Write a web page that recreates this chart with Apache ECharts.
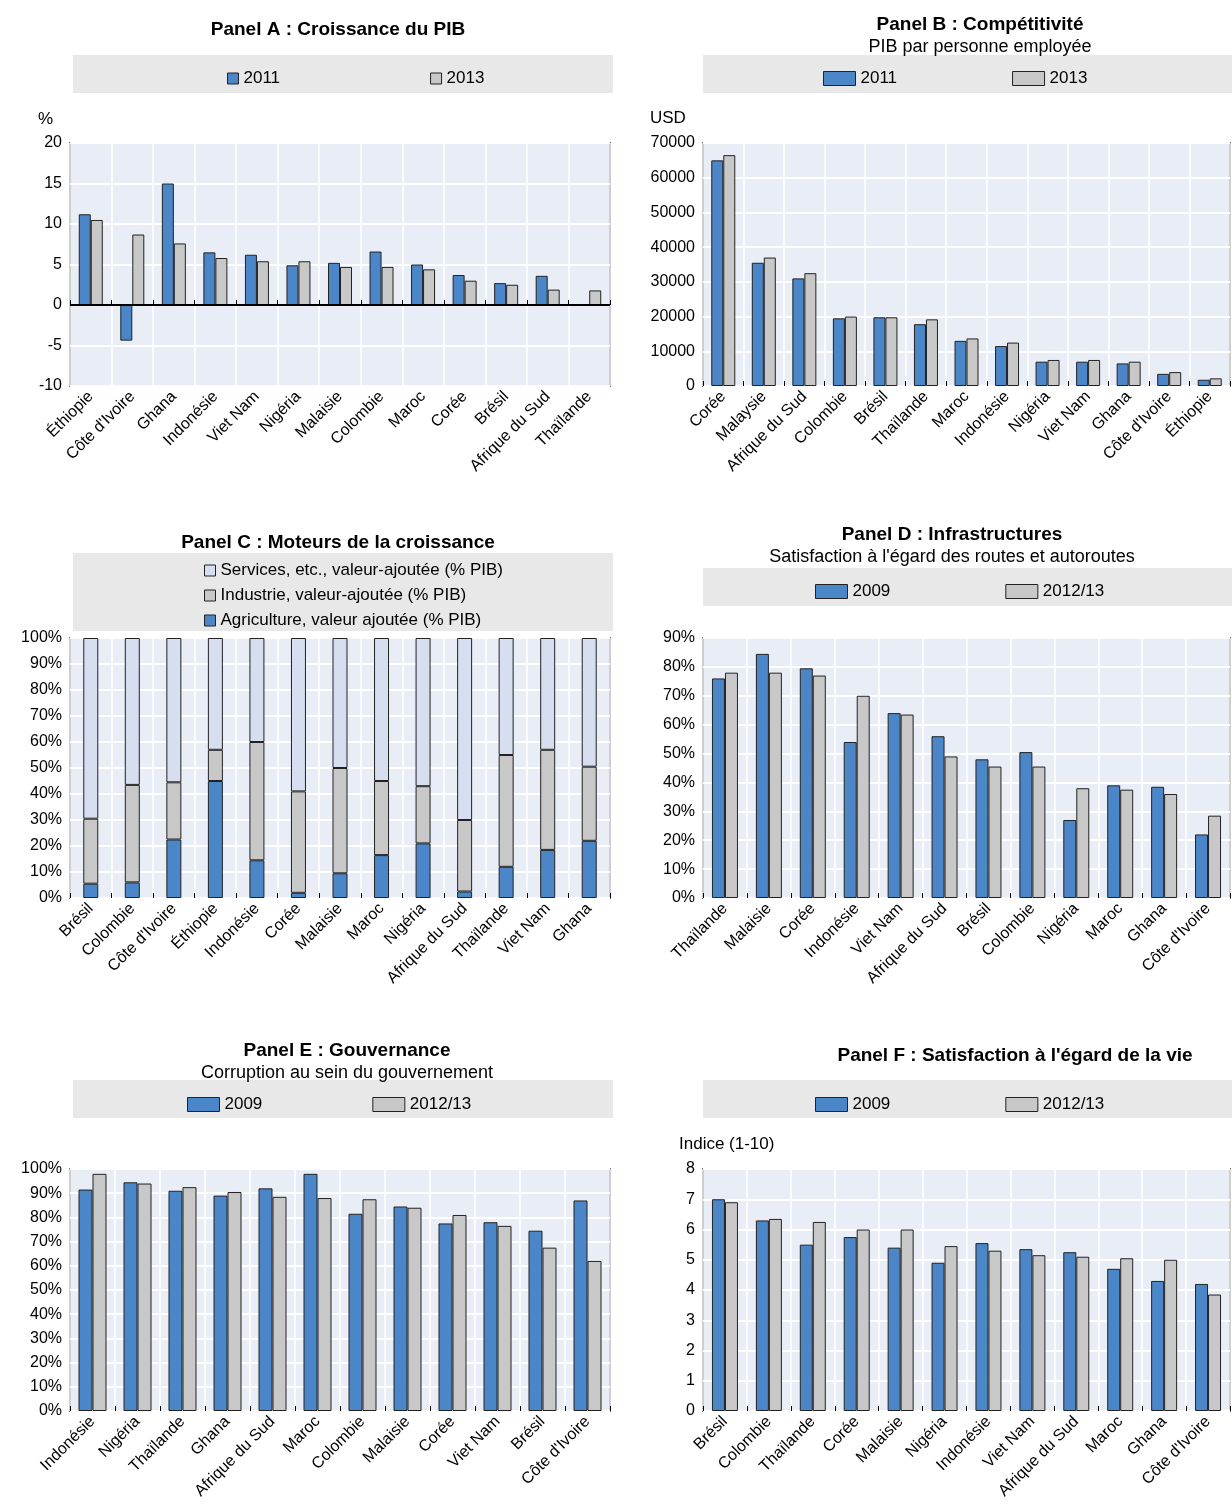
<!DOCTYPE html>
<html><head><meta charset="utf-8">
<script src="https://cdn.jsdelivr.net/npm/echarts@6/dist/echarts.min.js"></script>
<style>body{margin:0;background:#fff}#main{width:1232px;height:1504px}</style>
</head><body><div id="main"></div>
<script>
// Panel A : croissance du PIB (%)
const catA = ["Éthiopie","Côte d'Ivoire","Ghana","Indonésie","Viet Nam","Nigéria","Malaisie","Colombie","Maroc","Corée","Brésil","Afrique du Sud","Thaïlande"];
const a2011 = [11.2,-4.4,15.0,6.5,6.2,4.9,5.2,6.6,5.0,3.7,2.7,3.6,null];
const a2013 = [10.5,8.7,7.6,5.8,5.4,5.4,4.7,4.7,4.4,3.0,2.5,1.9,1.8];
// Panel B : PIB par personne employée (USD)
const catB = ["Corée","Malaysie","Afrique du Sud","Colombie","Brésil","Thaïlande","Maroc","Indonésie","Nigéria","Viet Nam","Ghana","Côte d'Ivoire","Éthiopie"];
const b2011 = [65000,35500,31000,19500,19800,17800,13000,11500,7000,7000,6500,3500,1800];
const b2013 = [66500,37000,32500,20000,19800,19200,13700,12500,7500,7500,7000,4000,2200];
// Panel C : moteurs de la croissance (% PIB)
const catC = ["Brésil","Colombie","Côte d'Ivoire","Éthiopie","Indonésie","Corée","Malaisie","Maroc","Nigéria","Afrique du Sud","Thaïlande","Viet Nam","Ghana"];
const cAgri = [5.5,6,22.5,45,14.5,2,9.5,16.5,21,2.5,12,18.5,22];
const cInd = [25,37.5,22,12,45.5,39,40.5,28.5,22,27.5,43,38.5,28.5];
const cServ = [69.5,56.5,55.5,43,40,59,50,55,57,70,45,43,49.5];
// Panel D : satisfaction routes (%)
const catD = ["Thaïlande","Malaisie","Corée","Indonésie","Viet Nam","Afrique du Sud","Brésil","Colombie","Nigéria","Maroc","Ghana","Côte d'Ivoire"];
const d2009 = [76,84.5,79.5,54,64,56,48,50.5,27,39,38.5,22];
const d2012 = [78,78,77,70,63.5,49,45.5,45.5,38,37.5,36,28.5];
// Panel E : corruption (%)
const catE = ["Indonésie","Nigéria","Thaïlande","Ghana","Afrique du Sud","Maroc","Colombie","Malaisie","Corée","Viet Nam","Brésil","Côte d'Ivoire"];
const e2009 = [91.5,94.5,91,89,92,98,81.5,84.5,77.5,78,74.5,87];
const e2012 = [98,94,92.5,90.5,88.5,88,87.5,84,81,76.5,67.5,62];
// Panel F : satisfaction vie (1-10)
const catF = ["Brésil","Colombie","Thaïlande","Corée","Malaisie","Nigéria","Indonésie","Viet Nam","Afrique du Sud","Maroc","Ghana","Côte d'Ivoire"];
const f2009 = [7.0,6.3,5.5,5.75,5.4,4.9,5.55,5.35,5.25,4.7,4.3,4.2];
const f2012 = [6.9,6.35,6.25,6.0,6.0,5.45,5.3,5.15,5.1,5.05,5.0,3.85];

const FONT = "'Liberation Sans Narrow','Arial Narrow','Liberation Sans',sans-serif";
const BLUE = '#4a86c8', GREY = '#c8c8c8', LIGHT = '#d6deef';
const grids = [
  {left:70, top:143, width:540, height:243},
  {left:703, top:143, width:527, height:243},
  {left:70, top:638, width:540, height:260},
  {left:703, top:638, width:527, height:260},
  {left:70, top:1169, width:540, height:242},
  {left:703, top:1169, width:527, height:242}
].map(g => Object.assign({show:true, backgroundColor:'#e9edf6', borderColor:'#000', borderWidth:1.5}, g));

const cats = [catA,catB,catC,catD,catE,catF];
const xAxis = cats.map((c,i) => ({
  type:'category', gridIndex:i, data:c,
  axisLine:{show:false}, axisTick:{show:true, inside:true, length:5, lineStyle:{color:'#000'}},
  splitLine:{show:true, lineStyle:{color:'#fff', width:1.5}},
  axisLabel:{rotate:45, interval:0, fontFamily:FONT, fontSize:16, color:'#000', margin:8}
}));
const ylab = (fmt) => ({fontFamily:FONT, fontSize:16, color:'#000', formatter:fmt});
const ySplit = {show:true, lineStyle:{color:'#fff', width:2}};
const yAxis = [
  {min:-10, max:20, interval:5},
  {min:0, max:70000, interval:10000},
  {min:0, max:100, interval:10, fmt:'{value}%'},
  {min:0, max:90, interval:10, fmt:'{value}%'},
  {min:0, max:100, interval:10, fmt:'{value}%'},
  {min:0, max:8, interval:1}
].map((y,i) => ({type:'value', gridIndex:i, min:y.min, max:y.max, interval:y.interval,
  axisLine:{show:false}, axisTick:{show:false}, splitLine:ySplit,
  axisLabel:ylab(y.fmt || (v => String(v)))}));

const bar = (name, data, i, color, w, extra) => Object.assign({
  type:'bar', name, data, xAxisIndex:i, yAxisIndex:i, barWidth:w, barGap:'0%',
  itemStyle:{color, borderColor:'#222', borderWidth:1}
}, extra || {});

const series = [
  bar('2011', a2011, 0, BLUE, 12, {markLine:{silent:true, symbol:'none', label:{show:false}, lineStyle:{color:'#000', width:2, type:'solid'}, data:[{yAxis:0}]}}),
  bar('2013', a2013, 0, GREY, 12),
  bar('2011', b2011, 1, BLUE, 12),
  bar('2013', b2013, 1, GREY, 12),
  bar('Agriculture, valeur ajoutée (% PIB)', cAgri, 2, BLUE, 15, {stack:'c'}),
  bar('Industrie, valeur-ajoutée (% PIB)', cInd, 2, GREY, 15, {stack:'c'}),
  bar('Services, etc., valeur-ajoutée (% PIB)', cServ, 2, LIGHT, 15, {stack:'c'}),
  bar('2009', d2009, 3, BLUE, 13),
  bar('2012/13', d2012, 3, GREY, 13),
  bar('2009', e2009, 4, BLUE, 14),
  bar('2012/13', e2012, 4, GREY, 14),
  bar('2009', f2009, 5, BLUE, 13),
  bar('2012/13', f2012, 5, GREY, 13)
];

const lt = {fontFamily:FONT, fontSize:17, color:'#000'};
const legend = [
  {left:222, top:65, data:['2011','2013'], itemWidth:11, itemHeight:11, itemGap:150},
  {left:818, top:65, data:['2011','2013'], itemWidth:32, itemHeight:14, itemGap:115},
  {left:199, top:557, orient:'vertical', data:['Services, etc., valeur-ajoutée (% PIB)','Industrie, valeur-ajoutée (% PIB)','Agriculture, valeur ajoutée (% PIB)'], itemWidth:11, itemHeight:11, itemGap:8},
  {left:810, top:578, data:['2009','2012/13'], itemWidth:32, itemHeight:14, itemGap:115},
  {left:182, top:1091, data:['2009','2012/13'], itemWidth:32, itemHeight:14, itemGap:110},
  {left:810, top:1091, data:['2009','2012/13'], itemWidth:32, itemHeight:14, itemGap:115}
].map(l => Object.assign({icon:'rect', textStyle:lt, selectedMode:false, itemStyle:{borderColor:'#222', borderWidth:1}}, l));

const tt = {fontFamily:FONT, fontSize:19, fontWeight:'bold', color:'#000'};
const st = {fontFamily:FONT, fontSize:18, color:'#000'};
const title = [
  {text:'Panel A : Croissance du PIB', left:333, top:15},
  {text:'Panel B : Compétitivité', subtext:'PIB par personne employée', left:975, top:10},
  {text:'Panel C : Moteurs de la croissance', left:333, top:528},
  {text:'Panel D : Infrastructures', subtext:"Satisfaction à l'égard des routes et autoroutes", left:947, top:520},
  {text:'Panel E : Gouvernance', subtext:'Corruption au sein du gouvernement', left:342, top:1036},
  {text:"Panel F : Satisfaction à l'égard de la vie", left:1010, top:1041}
].map(t => Object.assign({textAlign:'center', textStyle:tt, subtextStyle:st, itemGap:4}, t));

const band = (x,y,w,h) => ({type:'rect', left:x, top:y, z:-1, shape:{width:w, height:h}, style:{fill:'#e8e8e8'}});
const txt = (x,y,s) => ({type:'text', left:x, top:y, style:{text:s, font:'17px ' + FONT, fill:'#000'}});
const graphic = [
  band(73,55,540,38), band(703,55,529,38), band(73,553,540,78),
  band(703,568,529,38), band(73,1080,540,38), band(703,1080,529,38),
  txt(38,111,'%'), txt(650,110,'USD'), txt(679,1136,'Indice (1-10)')
];

echarts.init(document.getElementById('main')).setOption({
  animation:false, title, legend, grid:grids, xAxis, yAxis, series, graphic
});
</script></body></html>
